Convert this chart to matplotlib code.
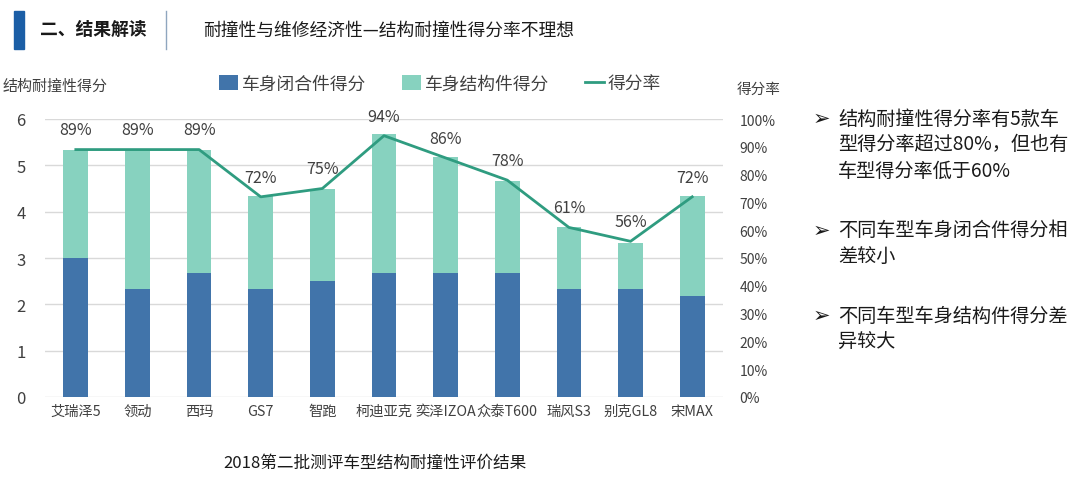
import matplotlib
matplotlib.use('Agg')
import matplotlib.pyplot as plt
from matplotlib.patches import Rectangle
from matplotlib.lines import Line2D
from matplotlib.ticker import PercentFormatter

plt.rcParams['font.family'] = ['Noto Sans CJK SC', 'DejaVu Sans']

# =============================================================================
# DADOS
# =============================================================================
modelos = ['艾瑞泽5', '领动', '西玛', 'GS7', '智跑', '柯迪亚克', '奕泽IZOA', '众泰T600', '瑞风S3', '别克GL8', '宋MAX']
fechamento = [3.0, 2.33, 2.67, 2.33, 2.5, 2.67, 2.67, 2.67, 2.33, 2.33, 2.17]
estrutura = [2.33, 3.0, 2.67, 2.0, 2.0, 3.0, 2.5, 2.0, 1.33, 1.0, 2.17]
taxa = [89, 89, 89, 72, 75, 94, 86, 78, 61, 56, 72]
taxa_labels = ['89%', '89%', '89%', '72%', '75%', '94%', '86%', '78%', '61%', '56%', '72%']
esquerda_ticks = [0, 1, 2, 3, 4, 5, 6]
direita_ticks = [0, 10, 20, 30, 40, 50, 60, 70, 80, 90, 100]

cor_fech = '#4174AA'
cor_estr = '#87D2BF'
cor_linha = '#2F9C80'
cor_texto = '#404040'

W, H = 1080, 481
fig = plt.figure(figsize=(W / 100, H / 100), dpi=100)

# =============================================================================
# CABEÇALHO
# =============================================================================
fig.patches.append(Rectangle((14 / W, 1 - 50 / H), 10 / W, 38 / H,
                             transform=fig.transFigure, color='#1B5EA6'))
fig.text(40 / W, 1 - 30 / H, '二、结果解读', fontsize=12.8, fontweight='bold',
         va='center', color='#1a1a1a')
fig.lines.append(Line2D([166 / W, 166 / W], [1 - 12 / H, 1 - 50 / H],
                        transform=fig.transFigure, color='#8FA6BF', lw=1))
fig.text(203 / W, 1 - 31 / H, '耐撞性与维修经济性—结构耐撞性得分率不理想',
         fontsize=12.8, va='center', color='#1a1a1a')

# =============================================================================
# GRÁFICO
# =============================================================================
ax = fig.add_axes([45 / W, (H - 398) / H, 678 / W, 278 / H])
x = list(range(len(modelos)))
b1 = ax.bar(x, fechamento, width=0.4, color=cor_fech, label='车身闭合件得分', zorder=2)
b2 = ax.bar(x, estrutura, width=0.4, bottom=fechamento, color=cor_estr,
            label='车身结构件得分', zorder=2)

ax.set_ylim(0, 6)
ax.set_xlim(-0.5, len(modelos) - 0.5)
ax.set_yticks(esquerda_ticks)
ax.yaxis.grid(True, color='#D9D9D9', lw=1, zorder=0)
ax.set_xticks(x)
ax.set_xticklabels(modelos, fontsize=10.3, color=cor_texto)
for s in ax.spines.values():
    s.set_visible(False)
ax.tick_params(axis='both', length=0)
ax.tick_params(axis='y', labelsize=12, labelcolor=cor_texto, pad=14)
ax.tick_params(axis='x', pad=5)

ax2 = ax.twinx()
ax2.set_ylim(0, 100)
ax2.set_yticks(direita_ticks)
ax2.yaxis.set_major_formatter(PercentFormatter(decimals=0))
for s in ax2.spines.values():
    s.set_visible(False)
ax2.tick_params(axis='y', length=0, labelsize=10, labelcolor=cor_texto, pad=12)
l1, = ax2.plot(x, taxa, color=cor_linha, lw=2, label='得分率', zorder=3)
for xi, ti, lab in zip(x, taxa, taxa_labels):
    ax2.annotate(lab, (xi, ti), xytext=(0, 8), textcoords='offset points',
                 ha='center', va='bottom', fontsize=11.5, color=cor_texto)

fig.legend(handles=[b1, b2, l1], loc='center', bbox_to_anchor=(440 / W, 1 - 85 / H),
           ncol=3, frameon=False, fontsize=12.8, handlelength=1.1, handleheight=0.9,
           handletextpad=0.2, columnspacing=2.0, labelcolor=cor_texto)

fig.text(3 / W, 1 - 87 / H, '结构耐撞性得分', fontsize=10.8, va='center', color=cor_texto)
fig.text(737 / W, 1 - 90 / H, '得分率', fontsize=10.5, va='center', color=cor_texto)
fig.text(375 / W, 1 - 463 / H, '2018第二批测评车型结构耐撞性评价结果', fontsize=12,
         ha='center', va='center', color='#1a1a1a')

# =============================================================================
# TEXTO LATERAL
# =============================================================================
bullets = [
    (119, ['结构耐撞性得分率有5款车', '型得分率超过80%，但也有', '车型得分率低于60%']),
    (231, ['不同车型车身闭合件得分相', '差较小']),
    (316, ['不同车型车身结构件得分差', '异较大']),
]
for y0, linhas in bullets:
    fig.text(813 / W, 1 - y0 / H, '➢', fontsize=15, va='center', color='#1a1a1a',
             family=['DejaVu Sans'])
    for i, t in enumerate(linhas):
        fig.text(838 / W, 1 - (y0 + 26 * i) / H, t, fontsize=13.8, va='center',
                 color='#1a1a1a')

fig.savefig('out.png', dpi=100)
